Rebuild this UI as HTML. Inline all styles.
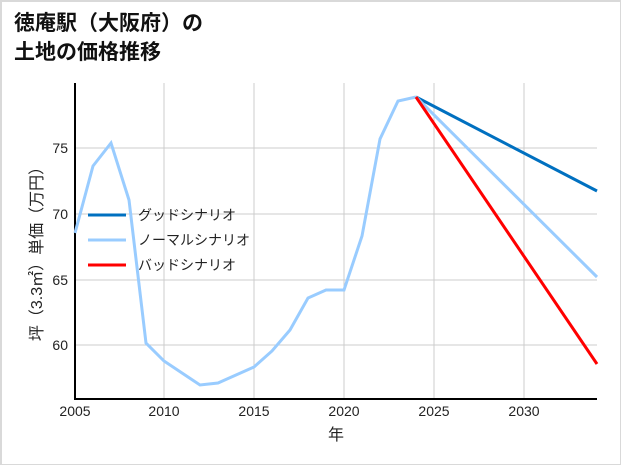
<!DOCTYPE html>
<html><head><meta charset="utf-8"><style>
html,body{margin:0;padding:0;background:#fff}
.wrap{width:621px;height:465px;box-sizing:border-box;border:2px solid #d9d9d9;border-right-width:1px;border-bottom-width:1px;position:relative;overflow:hidden}
text{font-family:"Liberation Sans","Noto Sans CJK JP",sans-serif}
</style></head><body><div class="wrap">
<svg width="621" height="465" viewBox="0 0 621 465" style="position:absolute;left:-2px;top:-2px">
<text x="14" y="30" font-size="21" font-weight="bold" fill="#111">徳庵駅（大阪府）の</text>
<text x="14" y="59" font-size="21" font-weight="bold" fill="#111">土地の価格推移</text>
<g stroke="#cccccc" stroke-width="1">
<line x1="164" y1="83" x2="164" y2="399"/><line x1="254" y1="83" x2="254" y2="399"/>
<line x1="344" y1="83" x2="344" y2="399"/><line x1="434" y1="83" x2="434" y2="399"/>
<line x1="524" y1="83" x2="524" y2="399"/>
<line x1="75" y1="148" x2="597" y2="148"/><line x1="75" y1="214" x2="597" y2="214"/>
<line x1="75" y1="280" x2="597" y2="280"/><line x1="75" y1="345" x2="597" y2="345"/>
</g>
<g stroke="#000" stroke-width="2"><line x1="75" y1="83" x2="75" y2="400"/><line x1="74" y1="399" x2="597" y2="399"/></g>
<g font-size="14" fill="#222" text-anchor="end">
<text x="68" y="153">75</text><text x="68" y="219">70</text><text x="68" y="285">65</text><text x="68" y="350">60</text>
</g>
<g font-size="14" fill="#222" text-anchor="middle">
<text x="75" y="416">2005</text><text x="164" y="416">2010</text><text x="254" y="416">2015</text>
<text x="344" y="416">2020</text><text x="434" y="416">2025</text><text x="524" y="416">2030</text>
<text x="336" y="440" font-size="16">年</text>
</g>
<text transform="translate(42,250) rotate(-90)" font-size="16" fill="#222" text-anchor="middle">坪（3.3㎡）単価（万円）</text>
<polyline fill="none" stroke="#99ccff" stroke-width="3" points="75,233 93,166 111,143 129,200 146,343 164,361 182,373 200,385 218,383 236,375 254,367 272,351 290,330 308,298 326,290 344,290 362,236 380,139 398,101 416,97"/>
<line x1="416" y1="97" x2="597" y2="191" stroke="#0070c0" stroke-width="3"/>
<line x1="416" y1="97" x2="597" y2="277" stroke="#99ccff" stroke-width="3"/>
<line x1="416" y1="97" x2="597" y2="364" stroke="#ff0000" stroke-width="3"/>
<g font-size="14" fill="#222">
<line x1="88" y1="215" x2="126" y2="215" stroke="#0070c0" stroke-width="3"/><text x="138" y="220">グッドシナリオ</text>
<line x1="88" y1="240" x2="126" y2="240" stroke="#99ccff" stroke-width="3"/><text x="138" y="245">ノーマルシナリオ</text>
<line x1="88" y1="265" x2="126" y2="265" stroke="#ff0000" stroke-width="3"/><text x="138" y="270">バッドシナリオ</text>
</g>
</svg></div></body></html>
